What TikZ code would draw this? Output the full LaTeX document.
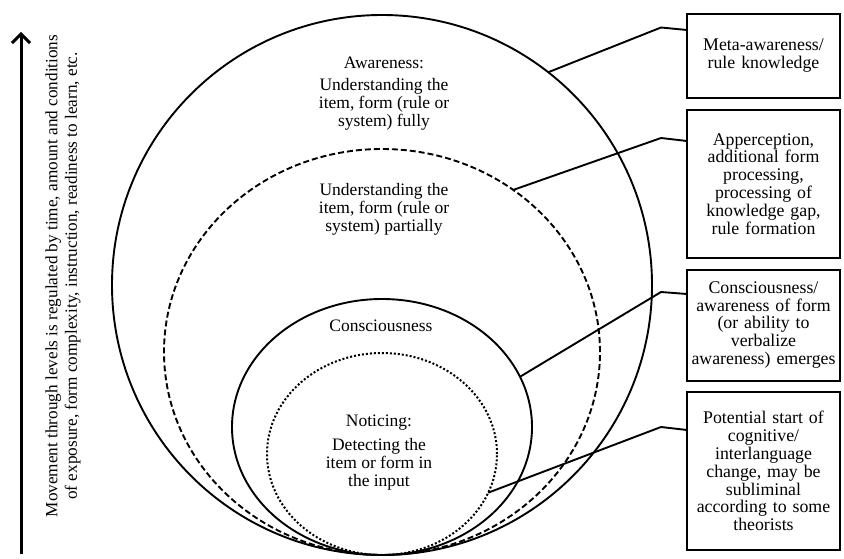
\documentclass[tikz,border=0pt]{standalone}
\usepackage{fontspec}
\setmainfont{Liberation Serif}
\usetikzlibrary{shapes.geometric,arrows.meta,calc}
\begin{document}
\begin{tikzpicture}[x=1pt,y=-1pt,
  lvl/.style={draw,ellipse,inner sep=0pt,outer sep=0pt,line width=1.9pt},
  infobox/.style={draw,line width=2pt,minimum width=153pt,text width=150pt,align=center,inner sep=0pt,outer sep=0pt,font=\fontsize{17.8}{17.9}\selectfont},
  lbl/.style={align=center,inner sep=0pt,font=\fontsize{17.5}{18}\selectfont},
  conn/.style={line width=1.9pt,line join=round}]
\useasboundingbox (0,0) rectangle (844,559);
% levels
\node[lvl,minimum width=540pt,minimum height=540pt] (outer) at (382,285) {};
\node[lvl,dash pattern=on 6pt off 3pt,minimum width=436pt,minimum height=406pt] (dash) at (382,352) {};
\node[lvl,minimum width=300pt,minimum height=256pt] (cons) at (382,427) {};
\node[lvl,line width=2pt,dash pattern=on 2pt off 2pt,minimum width=230pt,minimum height=202pt] (noti) at (382,454) {};
% labels
\node[lbl] (tA) at (384,94) {Awareness:\\[4pt]Understanding the\\item, form (rule or\\system) fully};
\node[lbl] (tB) at (384,209) {Understanding the\\item, form (rule or\\system) partially};
\node[lbl] (tC) at (381,326) {Consciousness};
\node[lbl] (tD) at (379,453) {Noticing:\\[6pt]Detecting the\\item or form in\\the input};
% boxes
\node[infobox,minimum height=84pt] (b1) at (763.5,56) {Meta-awareness/\\rule knowledge};
\node[infobox,minimum height=148pt] (b2) at (763.5,184) {Apperception,\\additional form\\processing,\\processing of\\knowledge gap,\\rule formation};
\node[infobox,minimum height=111pt] (b3) at (763.5,325) {Consciousness/\\awareness of form\\(or ability to\\verbalize\\awareness) emerges};
\node[infobox,minimum height=158pt] (b4) at (763.5,471) {Potential start of\\cognitive/\\interlanguage\\change, may be\\subliminal\\according to some\\theorists};
% connectors
\coordinate (k1) at (661,27.5);
\coordinate (k2) at (661,138);
\coordinate (k3) at (661,292);
\coordinate (k4) at (661,427);
\draw[conn] (outer.52.8) -- (k1) -- (b1.west |- 0,30);
\draw[conn] (dash.51.3) -- (k2) -- (b2.west |- 0,141);
\draw[conn] (cons.20) -- (k3) -- (b3.west |- 0,294);
\draw[conn] (noti.-20) -- (k4) -- (b4.west |- 0,430);
% arrow and side text
\coordinate (a0) at (21,554);
\coordinate (a1) at (21,32);
\draw[line width=3pt,-{Straight Barb[length=9pt,width=18pt]}] (a0) -- (a1);
\node[lbl,rotate=90,font=\fontsize{17.2}{19.5}\selectfont] (side) at (63,276) {Movement through levels is regulated by time, amount and conditions\\of exposure, form complexity, instruction, readiness to learn, etc.};
\end{tikzpicture}
\end{document}
